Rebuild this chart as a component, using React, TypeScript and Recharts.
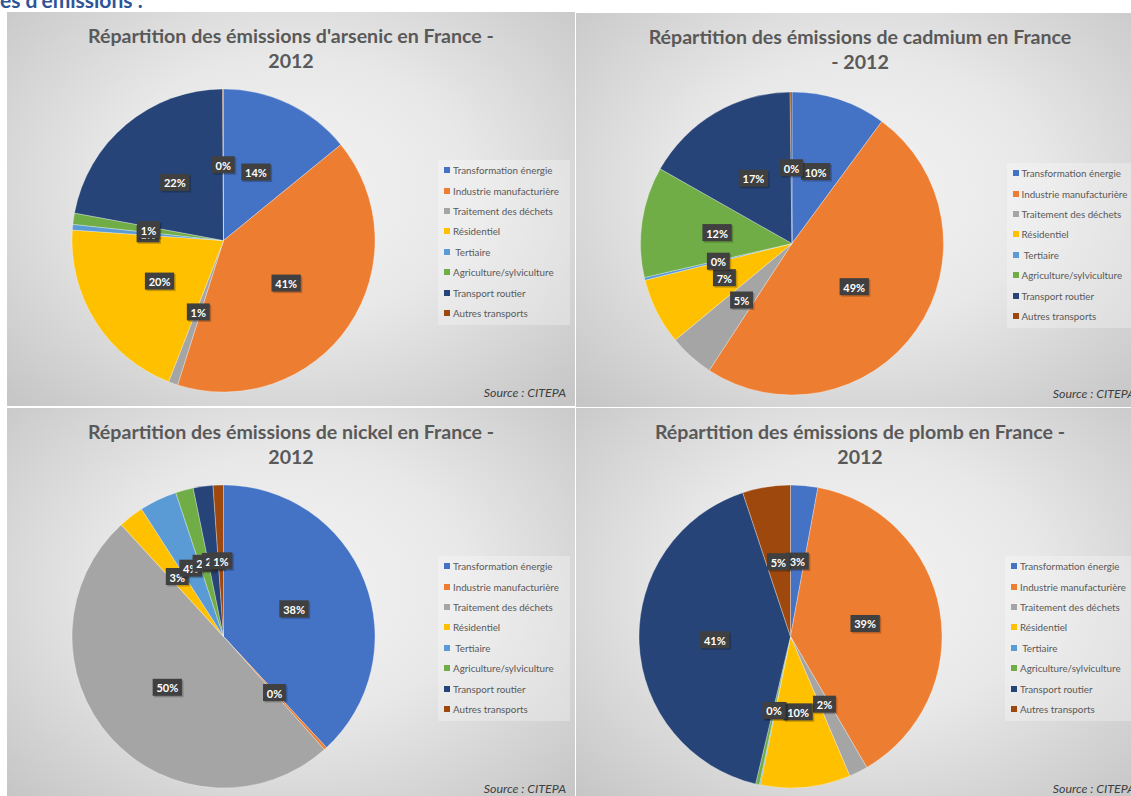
import { PieChart, Pie, Cell, Legend } from 'recharts';

const CATEGORIES = [
    'Transformation énergie',
    'Industrie manufacturière',
    'Traitement des déchets',
    'Résidentiel',
    ' Tertiaire',
    'Agriculture/sylviculture',
    'Transport routier',
    'Autres transports',
];
const COLORS = ['#4472C4', '#ED7D31', '#A5A5A5', '#FFC000', '#5B9BD5', '#70AD47', '#264478', '#9E480E'];

// parts (%), same order as CATEGORIES
const ARSENIC = [14.1, 40.8, 1.0, 20.2, 0.6, 1.2, 22.0, 0.1];
const CADMIUM = [10.1, 49.1, 4.8, 7.1, 0.3, 11.8, 16.6, 0.2];
const NICKEL = [38.1, 0.3, 49.8, 2.7, 4.0, 1.9, 2.1, 1.1];
const PLOMB = [2.9, 38.7, 2.0, 9.6, 0.1, 0.4, 41.2, 5.1];

const SOURCE = 'Source : CITEPA';
const FONT = 'Lato, "Open Sans", sans-serif';
const RADIAN = Math.PI / 180;

function renderLabel(props: any) {
    const { cx, cy, midAngle, outerRadius, percent } = props;
    const r = outerRadius * 0.5;
    const x = cx + r * Math.cos(-midAngle * RADIAN);
    const y = cy + r * Math.sin(-midAngle * RADIAN);
    const text = `${Math.round(percent * 100)}%`;
    const w = (text.length - 1) * 6.4 + 16.5;
    const h = 17;
    return (
        <g>
            <rect x={x - w / 2 + 1.5} y={y - h / 2 + 1.5} width={w} height={h} fill="rgba(0,0,0,0.22)" />
            <rect x={x - w / 2} y={y - h / 2} width={w} height={h} fill="#404040" />
            <text
                x={x}
                y={y + 0.5}
                fill="#ffffff"
                textAnchor="middle"
                dominantBaseline="central"
                fontFamily={FONT}
                fontWeight="bold"
                fontSize={11}
            >
                {text}
            </text>
        </g>
    );
}

// legend keeps the data order (the default legend sorts the names)
function LegendBox() {
    return (
        <div
            style={{
                width: 132,
                height: 165,
                background: 'rgba(255,255,255,0.28)',
                fontFamily: FONT,
                fontSize: 9.8,
                color: '#595959',
            }}
        >
            {CATEGORIES.map((name, i) => (
                <div key={name} style={{ height: 20.4, display: 'flex', alignItems: 'center', whiteSpace: 'pre' }}>
                    <span
                        style={{
                            display: 'inline-block',
                            width: 6,
                            height: 6,
                            marginLeft: 6,
                            marginRight: 3,
                            background: COLORS[i],
                        }}
                    />
                    {name}
                </div>
            ))}
        </div>
    );
}

interface PanelProps {
    left: number;
    top: number;
    title: string[];
    values: number[];
    cx: number;
    cy: number;
}

function Panel({ left, top, title, values, cx, cy }: PanelProps) {
    const width = 568;
    const height = 394;
    const data = CATEGORIES.map((name, i) => ({ name, value: values[i] }));
    return (
        <div
            style={{
                position: 'absolute',
                left,
                top,
                width,
                height,
                background: 'radial-gradient(ellipse 70% 75% at 50% 45%, #f3f3f3 0%, #e8e8e8 45%, #c6c6c6 100%)',
            }}
        >
            <div
                style={{
                    position: 'absolute',
                    left: 0,
                    top: 11,
                    width,
                    textAlign: 'center',
                    fontFamily: FONT,
                    fontWeight: 'bold',
                    fontSize: 19.6,
                    lineHeight: '25px',
                    color: '#595959',
                }}
            >
                {title[0]}
                <br />
                {title[1]}
            </div>
            <PieChart width={width} height={height} margin={{ top: 0, right: 0, bottom: 0, left: 0 }} style={{ position: 'absolute', left: 0, top: 0 }}>
                <Pie
                    data={data}
                    dataKey="value"
                    nameKey="name"
                    cx={cx}
                    cy={cy}
                    outerRadius={151.5}
                    startAngle={90}
                    endAngle={-270}
                    stroke="rgba(255,255,255,0.5)"
                    strokeWidth={0.6}
                    label={renderLabel}
                    labelLine={false}
                    isAnimationActive={false}
                >
                    {data.map((d, i) => (
                        <Cell key={d.name} fill={COLORS[i]} />
                    ))}
                </Pie>
                <Legend
                    layout="vertical"
                    align="right"
                    verticalAlign="middle"
                    content={<LegendBox />}
                    wrapperStyle={{ left: cx + 214.5, top: cy - 80.5, width: 132, height: 165 }}
                />
            </PieChart>
            <div
                style={{
                    position: 'absolute',
                    right: 9,
                    top: 373,
                    fontFamily: FONT,
                    fontStyle: 'italic',
                    fontSize: 12.4,
                    color: '#404040',
                }}
            >
                {SOURCE}
            </div>
        </div>
    );
}

export default function App() {
    return (
        <div
            style={{
                position: 'absolute',
                left: 0,
                top: 0,
                width: 1131,
                height: 796,
                overflow: 'hidden',
                background: '#ffffff',
            }}
        >
            <div
                style={{
                    position: 'absolute',
                    left: 0,
                    top: -13,
                    fontFamily: FONT,
                    fontWeight: 'bold',
                    fontSize: 21,
                    color: '#2F5597',
                    whiteSpace: 'nowrap',
                }}
            >
                es d'émissions :
            </div>
            <Panel left={7} top={12} title={["Répartition des émissions d'arsenic en France -", '2012']} values={ARSENIC} cx={216.5} cy={228.5} />
            <Panel left={576} top={13} title={['Répartition des émissions de cadmium en France', '- 2012']} values={CADMIUM} cx={216} cy={230.5} />
            <Panel left={7} top={408} title={['Répartition des émissions de nickel en France -', '2012']} values={NICKEL} cx={216.5} cy={228.5} />
            <Panel left={576} top={408} title={['Répartition des émissions de plomb en France -', '2012']} values={PLOMB} cx={214.5} cy={228.5} />
        </div>
    );
}
